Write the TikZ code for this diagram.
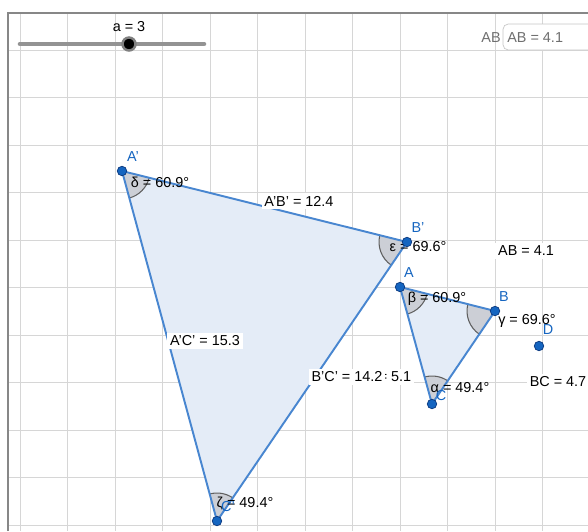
\documentclass[tikz,border=0pt]{standalone}
\usepackage{fontspec}
\setmainfont{Liberation Sans}
\usetikzlibrary{angles, positioning}
\definecolor{gridgray}{RGB}{214,214,214}
\definecolor{framegray}{RGB}{135,135,135}
\definecolor{edgeblue}{RGB}{72,134,208}
\definecolor{trifill}{RGB}{228,236,247}
\definecolor{ptblue}{RGB}{21,101,192}
\definecolor{ptrim}{RGB}{10,55,125}
\definecolor{secgray}{RGB}{204,207,214}
\definecolor{arcgray}{RGB}{95,95,95}
\definecolor{uigray}{RGB}{110,110,110}
\newcommand{\lbl}{\fontsize{8.2}{9}\selectfont}
\tikzset{
    gridline/.style={draw=gridgray, line width=0.5pt},
    frameline/.style={draw=framegray, line width=1.1pt},
    edge/.style={draw=edgeblue, line width=1.1pt, line cap=round},
    tri/.style={fill=trifill},
    ang/.style={draw=arcgray, fill=secgray, line width=0.6pt, angle radius=0.56cm},
    pt/.style={circle, fill=ptblue, draw=ptrim, line width=0.4pt, inner sep=0pt, minimum size=0.19cm},
    ptname/.style={text=ptblue, font=\lbl, inner sep=0pt},
    txt/.style={font=\lbl, inner sep=0pt},
    val/.style={fill=white, font=\lbl, inner sep=1.6pt},
    slider/.style={draw=gray!85, line width=2.6pt, line cap=round},
    knob/.style={circle, fill=black, draw=gray, line width=1.4pt, inner sep=0pt, minimum size=0.26cm}
}

\begin{document}
\begin{tikzpicture}[x=0.02cm, y=-0.02cm]
    \useasboundingbox (0,0) rectangle (588,531);

    % grid and frame
    \foreach \k in {0,...,11}
        \draw[gridline] ({20+47.5*\k},13) -- ({20+47.5*\k},531);
    \foreach \k in {0,...,10}
        \draw[gridline] (8,{50+47.5*\k}) -- (588,{50+47.5*\k});
    \draw[frameline] (8,531) -- (8,13) -- (588,13);

    % slider
    \coordinate (s0) at (20,44);
    \coordinate (s1) at (204,44);
    \draw[slider] (s0) -- (s1);
    \node[knob] (knob) at (129,44) {};
    \node[txt] (aval) at (129,27) {a = 3};

    % input box
    \draw[draw=gray!45, fill=white, rounded corners=3pt] (600,24) -- (503,24) -- (503,50) -- (600,50);
    \node[txt, text=uigray, anchor=west] (boxtxt) at (507,38) {AB = 4.1};
    \node[txt, text=uigray] (boxcap) at (491,38) {AB};

    % vertices
    \coordinate (Ap) at (122,171);
    \coordinate (Bp) at (407,242);
    \coordinate (Cp) at (217,521);
    \coordinate (A) at (400,287);
    \coordinate (B) at (495,311);
    \coordinate (C) at (432,404);
    \coordinate (D) at (539,346);

    % triangles
    \fill[tri] (Ap) -- (Bp) -- (Cp) -- cycle;
    \fill[tri] (A) -- (B) -- (C) -- cycle;
    \pic[ang] {angle = Cp--Ap--Bp};
    \pic[ang] {angle = Ap--Bp--Cp};
    \pic[ang] {angle = Bp--Cp--Ap};
    \pic[ang] {angle = C--A--B};
    \pic[ang] {angle = A--B--C};
    \pic[ang] {angle = B--C--A};
    \draw[edge] (Ap) -- (Bp);
    \draw[edge] (Bp) -- (Cp);
    \draw[edge] (Cp) -- (Ap);
    \draw[edge] (A) -- (B);
    \draw[edge] (B) -- (C);
    \draw[edge] (C) -- (A);

    % lengths
    \node[val] (lApBp) at (299,201) {A'B' = 12.4};
    \node[val] (lApCp) at (205,341) {A'C' = 15.3};
    \node[val] (lAC) at (383,377) {AC = 5.1};
    \node[val] (lBpCp) at (347,377) {B'C' = 14.2};
    \node[val] (lAB) at (526,251) {AB = 4.1};
    \node[val] (lBC) at (558,382) {BC = 4.7};

    % angles
    \node[txt] (delta) at (160,182) {δ = 60.9°};
    \node[txt] (eps) at (418,247) {ε = 69.6°};
    \node[txt] (zeta) at (245,504) {ζ = 49.4°};
    \node[txt] (beta) at (437,299) {β = 60.9°};
    \node[txt] (gam) at (527,321) {γ = 69.6°};
    \node[txt] (alp) at (460,388) {α = 49.4°};

    % points
    \foreach \p in {Ap,Bp,Cp,A,B,C,D}
        \node[pt] (pt\p) at (\p) {};
    \node[ptname] (nAp) at (133,157) {A'};
    \node[ptname] (nBp) at (418,228) {B'};
    \node[ptname] (nCp) at (228,507) {C'};
    \node[ptname] (nA) at (409,273) {A};
    \node[ptname] (nB) at (504,297) {B};
    \node[ptname] (nC) at (441,396) {C};
    \node[ptname] (nD) at (548,330) {D};
\end{tikzpicture}
\end{document}
